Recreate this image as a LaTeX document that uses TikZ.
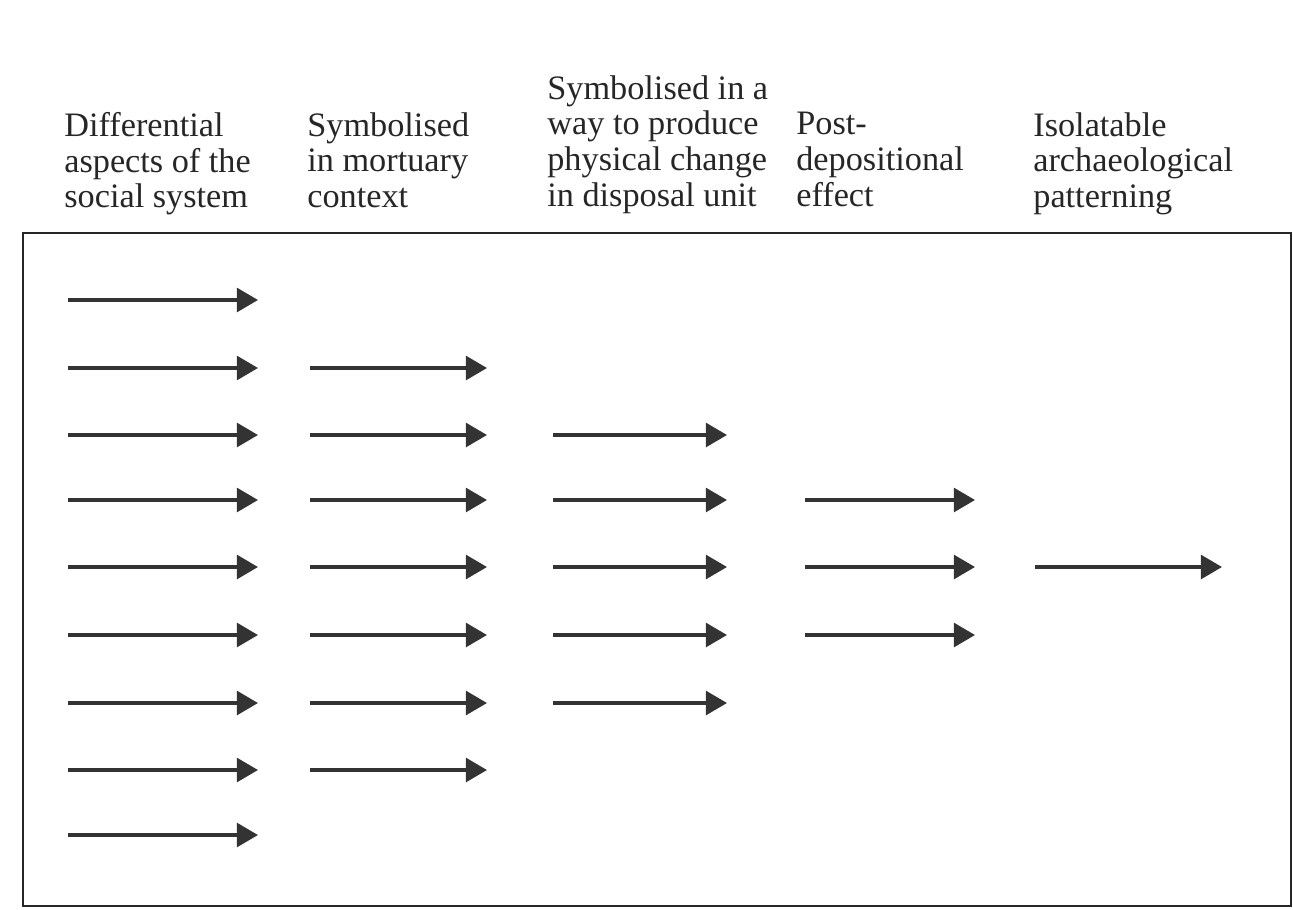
\documentclass[tikz,border=0pt]{standalone}
\usepackage{fontspec}
\setmainfont{Liberation Serif}
\usetikzlibrary{arrows.meta}
\begin{document}
\begin{tikzpicture}[x=0.02cm,y=-0.02cm,
  head/.style={font=\fontsize{19.5}{20.3}\selectfont, anchor=north west, inner sep=0pt, align=left, text=black!85},
  flow/.style={draw=black!80, line width=2pt, -{Triangle[length=12pt,width=13.5pt]}},
  frame/.style={draw=black!85, line width=1.1pt}]
\useasboundingbox[fill=white] (0,0) rectangle (1293,909);
% headers
\node[head] (h1) at (64,112) {Differential\\aspects of the\\social system};
\node[head] (h2) at (307,112) {Symbolised\\in mortuary\\context};
\node[head] (h3) at (547,75) {Symbolised in a\\way to produce\\physical change\\in disposal unit};
\node[head] (h4) at (796,112) {Post-\\depositional\\effect};
\node[head] (h5) at (1033,112) {Isolatable\\archaeological\\patterning};
% frame
\node[frame, inner sep=0pt, minimum width=1268*0.02cm, minimum height=673*0.02cm, anchor=north west] (box) at (22,232) {};
% arrows: row y, number of arrows
\def\xs{{68,310,553,805,1035}}
\def\xe{{258,487,727,975,1222}}
\foreach \y/\n [count=\r] in {300/1,368/2,435/3,500/4,567/5,635/4,703/3,770/2,835/1}{
  \foreach \c in {1,...,\n}{
    \pgfmathsetmacro{\sx}{\xs[\c-1]}
    \pgfmathsetmacro{\ex}{\xe[\c-1]}
    \coordinate (s\r-\c) at (\sx,\y);
    \coordinate (e\r-\c) at (\ex,\y);
    \draw[flow] (s\r-\c) -- (e\r-\c);
  }
}
\end{tikzpicture}
\end{document}
